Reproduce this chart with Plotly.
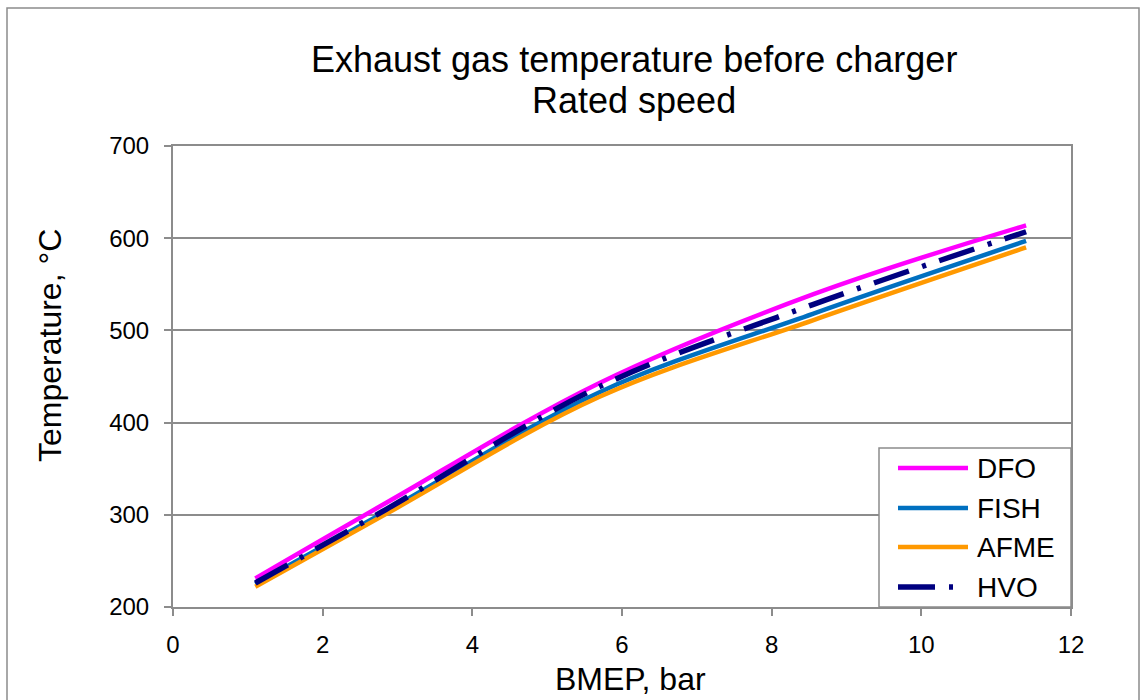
import plotly.graph_objects as go

# ---- data ----
bmep = [1.1, 2.85, 5.7, 8.55, 11.4]
dfo = [231, 313, 443, 539, 614]
fish = [225, 304, 433, 518, 597]
afme = [222, 301, 428, 511, 590]
hvo = [226, 306, 439, 528, 607]

series_names = ["DFO", "FISH", "AFME", "HVO"]
series_values = [dfo, fish, afme, hvo]
colors = ["#FF00FF", "#0070C0", "#FF9900", "#000080"]
dashes = ["solid", "solid", "solid", "37px,14px,4px,14px"]
widths = [4.5, 4.5, 4.5, 5.5]

title_lines = ["Exhaust gas temperature before charger", "Rated speed"]
x_title = "BMEP, bar"
y_title = "Temperature, °C"

W, H = 1144, 700
L, R, T, B = 173, 1071, 146, 607  # plot area in pixels


def px_x(p):
    return (p - L) / (R - L)


def px_y(p):
    return (B - p) / (B - T)


FONT = "Liberation Sans, Arial, sans-serif"
GRAY = "#8C8C8C"

fig = go.Figure()
for name, vals, c, d, w in zip(series_names, series_values, colors, dashes, widths):
    fig.add_trace(go.Scatter(
        x=bmep, y=vals, name=name, mode="lines",
        line=dict(color=c, width=w, dash=d, shape="spline", smoothing=1.0),
        showlegend=False,
    ))

shapes = []
annotations = []

# outer chart border
shapes.append(dict(type="rect", xref="paper", yref="paper",
                   x0=px_x(7), x1=px_x(1139), y0=px_y(706), y1=px_y(8),
                   line=dict(color=GRAY, width=1.5), fillcolor="rgba(0,0,0,0)", layer="below"))

# custom legend box
shapes.append(dict(type="rect", xref="paper", yref="paper",
                   x0=px_x(879), x1=px_x(1071), y0=px_y(607), y1=px_y(448),
                   line=dict(color=GRAY, width=1.5), fillcolor="white", layer="above"))
leg_y = [468, 508, 547, 587]
for name, c, d, w, yy in zip(series_names, colors, dashes, widths, leg_y):
    shapes.append(dict(type="line", xref="paper", yref="paper",
                       x0=px_x(898), x1=px_x(960 if d != "solid" else 968),
                       y0=px_y(yy), y1=px_y(yy),
                       line=dict(color=c, width=w, dash=d), layer="above"))
    annotations.append(dict(text=name, xref="paper", yref="paper",
                            x=px_x(975), y=px_y(yy), xanchor="left", yanchor="middle",
                            showarrow=False, font=dict(family=FONT, size=28, color="black")))

# title (two lines)
annotations.append(dict(text=title_lines[0], xref="paper", yref="paper",
                        x=px_x(634), y=px_y(60), xanchor="center", yanchor="middle",
                        showarrow=False, font=dict(family=FONT, size=36, color="black")))
annotations.append(dict(text=title_lines[1], xref="paper", yref="paper",
                        x=px_x(634), y=px_y(100), xanchor="center", yanchor="middle",
                        showarrow=False, font=dict(family=FONT, size=36, color="black")))
# axis titles
annotations.append(dict(text=x_title, xref="paper", yref="paper",
                        x=px_x(630), y=px_y(699), xanchor="center", yanchor="bottom",
                        showarrow=False, font=dict(family=FONT, size=32, color="black")))
annotations.append(dict(text=y_title, xref="paper", yref="paper",
                        x=px_x(50), y=px_y(345), xanchor="center", yanchor="middle",
                        textangle=-90,
                        showarrow=False, font=dict(family=FONT, size=32, color="black")))

fig.update_layout(
    width=W, height=H,
    margin=dict(l=L, r=W - R, t=T, b=H - B, autoexpand=False),
    paper_bgcolor="white", plot_bgcolor="white",
    font=dict(family=FONT, color="black"),
    shapes=shapes, annotations=annotations,
    showlegend=False,
)
fig.update_xaxes(range=[0, 12], dtick=2, tick0=0, showgrid=False, zeroline=False,
                 showline=True, linecolor=GRAY, linewidth=2, mirror=True,
                 ticks="outside", ticklen=7, tickwidth=2, tickcolor=GRAY,
                 ticklabelstandoff=8,
                 tickfont=dict(family=FONT, size=24, color="black"))
fig.update_yaxes(range=[200, 700], dtick=100, tick0=200, showgrid=True, gridcolor=GRAY,
                 gridwidth=2, zeroline=False,
                 showline=True, linecolor=GRAY, linewidth=2, mirror=True,
                 ticks="outside", ticklen=7, tickwidth=2, tickcolor=GRAY,
                 ticklabelstandoff=10,
                 tickfont=dict(family=FONT, size=24, color="black"))

fig.write_html("out.html")
